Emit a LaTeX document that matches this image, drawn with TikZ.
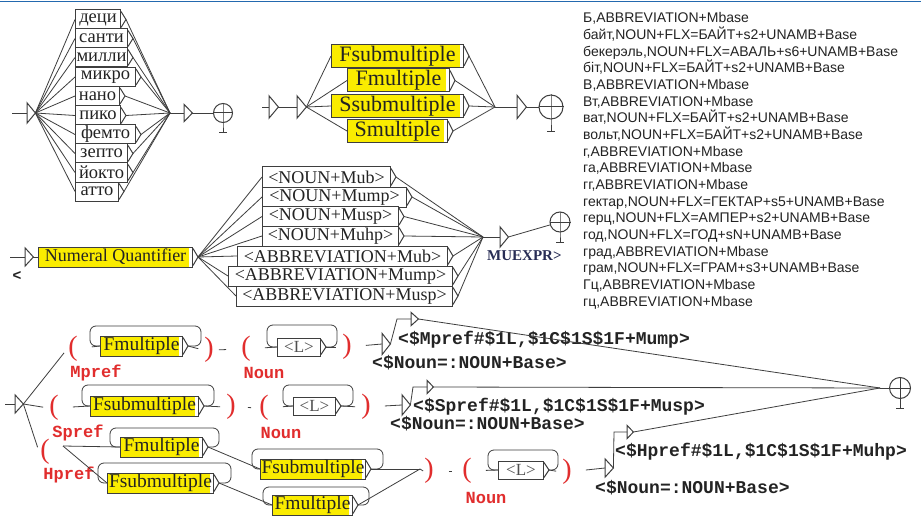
\documentclass[tikz,border=0pt]{standalone}
\usepackage{fontspec}
\setmainfont{Liberation Serif}
\newfontfamily\listfont{Liberation Sans}
\newfontfamily\codefont{Liberation Mono}
\definecolor{boxyellow}{RGB}{250,236,0}
\definecolor{edge}{RGB}{62,62,62}
\definecolor{ink}{RGB}{35,35,35}
\definecolor{softink}{RGB}{80,80,80}
\definecolor{varred}{RGB}{225,45,45}
\definecolor{topblue}{RGB}{35,105,175}
\definecolor{outblue}{RGB}{40,45,85}

\tikzset{
  conn/.style={draw=edge, line width=0.8pt},
  frame/.style={draw=edge, line width=1pt},
  unitbox/.style={frame, rectangle, anchor=west, inner xsep=1pt, inner ysep=0pt, text=ink},
  wbox/.style={unitbox, fill=white},
  ybox/.style={unitbox, fill=boxyellow,
    path picture={\fill[white] ([xshift=-4pt]path picture bounding box.north east)
      rectangle (path picture bounding box.south east);}},
  cyr/.style={font=\fontsize{18.5}{18.5}\selectfont, minimum height=19pt},
  big/.style={font=\fontsize{22}{22}\selectfont, minimum height=23pt},
  mid/.style={font=\fontsize{18}{18}\selectfont, minimum height=20pt},
  low/.style={font=\fontsize{19.5}{19.5}\selectfont, minimum height=20pt},
  lbox/.style={font=\fontsize{17}{17}\selectfont, minimum height=18pt, text=softink},
  epsbox/.style={rectangle, inner sep=0pt, anchor=west},
  paren/.style={font=\fontsize{28}{28}\selectfont, text=varred, inner sep=1pt},
  varname/.style={font=\codefont\bfseries\fontsize{17}{17}\selectfont, text=varred, inner sep=0pt},
  outtext/.style={font=\codefont\bfseries\fontsize{18}{18}\selectfont, text=ink, inner sep=0pt, anchor=west},
  entry/.style={font=\listfont\fontsize{14}{14}\selectfont, text=ink, inner sep=0pt, anchor=base west},
  plink/.style={conn, shorten <=13pt},
}

% box with its output triangle; the tip is the coordinate <name>-o
\newcommand\unitnode[6][]{%
  \node[#1, minimum width=#5pt] (#2) at (#3,#4) {#6};
  \draw[frame, fill=white] ([yshift=-2pt]#2.north east) -- ([xshift=5pt]#2.east)
    -- ([yshift=2pt]#2.south east);
  \coordinate (#2-o) at ([xshift=5pt]#2.east);}

% loop from a box back to its own input, drawn above the box
\newcommand\selfloop[4]{%
  \draw[conn, rounded corners=6pt] (#1-o) -- ++(#3,0) -- ++(0,-#4)
    -| ([xshift=-#2pt]#1.west) -- (#1.west);}

% empty box / initial state: a right-pointing triangle
\newcommand\epsnode[5]{%
  \node[epsbox, minimum width=#4pt, minimum height=#5pt] (#1) at (#2,#3) {};
  \draw[frame, fill=white] (#1.north west) -- (#1.east) -- (#1.south west) -- cycle;}

% final state: crossed circle on a short foot
\newcommand\finalstate[5]{%
  \node[circle, frame, inner sep=0pt, minimum size=#4*2pt] (#1) at (#2,#3) {};
  \draw[frame] (#1.north) -- (#1.south) -- ++(0,#5) coordinate (#1-foot);
  \draw[frame] (#1.west) -- (#1.east);
  \draw[frame] ([xshift=-4pt]#1-foot) -- ([xshift=4pt]#1-foot);}

\begin{document}
\begin{tikzpicture}[x=1pt, y=-1pt]
\fill[white] (0,0) rectangle (921,516);
\useasboundingbox (0,0) rectangle (921,516);
\draw[topblue, line width=1.8pt] (0,1.5) -- (921,1.5);

% ---------- prefixes
\coordinate (tl-start) at (12,113);
\coordinate (tl-join) at (170,113);
\epsnode{tl-init}{27}{113}{8}{20}
\draw[conn] (tl-start) -- (tl-init.west);
\unitnode[wbox,cyr]{deci}{75}{19.5}{45}{деци}
\unitnode[wbox,cyr]{centi}{75}{38.5}{52}{санти}
\unitnode[wbox,cyr]{milli}{75}{57.5}{52}{милли}
\unitnode[wbox,cyr]{micro}{75}{77}{60}{микро}
\unitnode[wbox,cyr]{nano}{75}{96}{44}{нано}
\unitnode[wbox,cyr]{pico}{75}{115.5}{45}{пико}
\unitnode[wbox,cyr]{femto}{75}{134.5}{60}{фемто}
\unitnode[wbox,cyr]{zepto}{75}{153.5}{52}{зепто}
\unitnode[wbox,cyr]{yocto}{75}{172.5}{52}{йокто}
\unitnode[wbox,cyr]{atto}{75}{191.5}{43}{атто}
\foreach \n in {deci,centi,milli,micro,nano,pico,femto,zepto,yocto,atto}{
  \draw[conn] (tl-init.east) -- (\n.west);
  \draw[conn] (\n-o) -- (tl-join);}
\epsnode{tl-end}{184}{113}{8}{17}
\finalstate{tl-fin}{223}{113}{9.5}{10}
\draw[conn] (tl-join) -- (tl-end.west);
\draw[conn] (tl-end.east) -- (tl-fin.west);

% ---------- multiples
\coordinate (tm-start) at (262,107);
\coordinate (tm-join) at (495,107);
\epsnode{tm-init}{269}{107}{9}{22}
\epsnode{tm-split}{297}{107}{9}{22}
\draw[conn] (tm-start) -- (tm-init.west);
\draw[conn] (tm-init.east) -- (tm-split.west);
\unitnode[ybox,big]{fsub}{331}{56}{132}{Fsubmultiple}
\unitnode[ybox,big]{fmul}{347}{80.5}{102}{Fmultiple}
\unitnode[ybox,big]{ssub}{331}{106}{132}{Ssubmultiple}
\unitnode[ybox,big]{smul}{347}{131}{100}{Smultiple}
\foreach \n in {fsub,fmul,ssub,smul}{
  \draw[conn] (tm-split.east) -- (\n.west);
  \draw[conn] (\n-o) -- (tm-join);}
\epsnode{tm-end}{517}{107}{9}{23}
\finalstate{tm-fin}{551}{107}{12}{12}
\draw[conn] (tm-join) -- (tm-end.west);
\draw[conn] (tm-end.east) -- (tm-fin.west);

% ---------- dictionary entries
\foreach \t [count=\i] in {{Б,ABBREVIATION+Mbase},{байт,NOUN+FLX=БАЙТ+s2+UNAMB+Base},
  {бекерэль,NOUN+FLX=АВАЛЬ+s6+UNAMB+Base},{біт,NOUN+FLX=БАЙТ+s2+UNAMB+Base},
  {В,ABBREVIATION+Mbase},{Вт,ABBREVIATION+Mbase},{ват,NOUN+FLX=БАЙТ+s2+UNAMB+Base},
  {вольт,NOUN+FLX=БАЙТ+s2+UNAMB+Base},{г,ABBREVIATION+Mbase},{га,ABBREVIATION+Mbase},
  {гг,ABBREVIATION+Mbase},{гектар,NOUN+FLX=ГЕКТАР+s5+UNAMB+Base},
  {герц,NOUN+FLX=АМПЕР+s2+UNAMB+Base},{год,NOUN+FLX=ГОД+sN+UNAMB+Base},
  {град,ABBREVIATION+Mbase},{грам,NOUN+FLX=ГРАМ+s3+UNAMB+Base},
  {Гц,ABBREVIATION+Mbase},{гц,ABBREVIATION+Mbase}}
  \node[entry] (entry\i) at (583,{23+16.65*(\i-1)}) {\t};

% ---------- quantifier with unit
\coordinate (mg-start) at (10,257);
\coordinate (mg-join) at (483,237);
\epsnode{mg-init}{25}{257}{8}{18}
\draw[conn] (mg-start) -- (mg-init.west);
\node[font=\listfont\bfseries\fontsize{15}{15}\selectfont, text=ink, inner sep=0pt] (mg-open) at (17,276) {<};
\unitnode[ybox,mid]{nq}{38}{257}{154}{Numeral Quantifier}
\draw[conn] (mg-init.east) -- (nq.west);
\unitnode[wbox,mid]{nmub}{262}{177}{128}{<NOUN+Mub>}
\unitnode[wbox,mid]{nmump}{262}{197}{144}{<NOUN+Mump>}
\unitnode[wbox,mid]{nmusp}{262}{216.5}{136}{<NOUN+Musp>}
\unitnode[wbox,mid]{nmuhp}{262}{236}{136}{<NOUN+Muhp>}
\unitnode[wbox,mid]{amub}{237}{256}{210}{<ABBREVIATION+Mub>}
\unitnode[wbox,mid]{amump}{228}{276}{224}{<ABBREVIATION+Mump>}
\unitnode[wbox,mid]{amusp}{236}{296}{216}{<ABBREVIATION+Musp>}
\foreach \n in {nmub,nmump,nmusp,nmuhp,amub,amump,amusp}{
  \draw[conn] (nq-o) -- (\n.west);
  \draw[conn] (\n-o) -- (mg-join);}
\epsnode{mg-end}{500}{237}{8}{20}
\finalstate{mg-fin}{560}{222}{10}{10}
\draw[conn] (mg-join) -- (mg-end.west);
\draw[conn] (mg-end.east) -- (mg-fin);
\node[font=\bfseries\fontsize{15}{15}\selectfont, text=outblue, inner sep=0pt, anchor=west] (mg-close) at (487,256) {MUEXPR>};

% ---------- prefixed units
\coordinate (bg-start) at (5,404);
\coordinate (bg-join) at (880,388);
\epsnode{bg-init}{15}{404}{8}{18}
\draw[conn] (bg-start) -- (bg-init.west);
\finalstate{bg-fin}{900}{388}{10.5}{9}

% row 1: Mpref
\node[paren] (lp1) at (73,349) {(};
\node[paren] (rp1) at (209,350) {)};
\node[paren] (lp1b) at (246,349) {(};
\node[paren] (rp1b) at (347,347) {)};
\node[varname] (mpref) at (96,373) {Mpref};
\node[varname] (noun1) at (264,373) {Noun};
\unitnode[ybox,low]{f1}{100}{346}{82}{Fmultiple}
\selfloop{f1}{10}{13}{20}
\unitnode[wbox,lbox]{l1}{277}{347}{43}{<L>}
\selfloop{l1}{10}{11}{22}
\epsnode{e1a}{382}{344}{8}{21}
\epsnode{e1b}{411}{319}{7}{13}
\node[outtext] (noun1out) at (372,363) {<\$Noun=:NOUN+Base>};
\node[outtext] (mpref-out) at (398,340) {<\$Mpref\#\$1L,\$1C\$1S\$1F+Mump>};
\draw[conn, shorten >=5pt] (bg-init.east) -- (lp1.west);
\draw[plink] (lp1) -- (f1.west);
\draw[conn, shorten >=5pt] (f1-o) -- (rp1.west);
\draw[conn, shorten <=4pt, shorten >=14pt] (rp1.east) -- (lp1b.west);
\draw[plink] (lp1b) -- (l1.west);
\draw[conn, shorten >=5pt] (l1-o) -- (rp1b.west);
\draw[plink] (rp1b) -- (e1a.west);
\draw[conn] (e1a.east) -- (397,319) -- (e1b.west);
\draw[conn] (e1b.east) -- (bg-join);

% row 2: Spref
\node[paren] (lp2) at (54,408) {(};
\node[paren] (rp2) at (231,407) {)};
\node[paren] (lp2b) at (264,408) {(};
\node[paren] (rp2b) at (366,407) {)};
\node[varname] (spref) at (78,433) {Spref};
\node[varname] (noun2) at (281,433) {Noun};
\unitnode[ybox,low]{f2}{90}{406}{108}{Fsubmultiple}
\selfloop{f2}{8}{10}{21}
\unitnode[wbox,lbox]{l2}{293}{406}{42}{<L>}
\selfloop{l2}{10}{12}{21}
\epsnode{e2a}{402}{405}{8}{20}
\epsnode{e2b}{427}{387}{6}{13}
\node[outtext] (noun2out) at (390,424) {<\$Noun=:NOUN+Base>};
\node[outtext] (spref-out) at (413,407) {<\$Spref\#\$1L,\$1C\$1S\$1F+Musp>};
\draw[conn, shorten >=5pt] (bg-init.east) -- (lp2.west);
\draw[plink] (lp2) -- (f2.west);
\draw[conn, shorten >=5pt] (f2-o) -- (rp2.west);
\draw[conn, shorten <=11pt, shorten >=7pt] (rp2.east) -- (lp2b.west);
\draw[plink] (lp2b) -- (l2.west);
\draw[conn, shorten >=5pt] (l2-o) -- (rp2b.west);
\draw[plink] (rp2b) -- (e2a.west);
\draw[conn] (e2a.east) -- (413,387) -- (e2b.west);
\draw[conn] (e2b.east) -- (bg-join);

% row 3: Hpref
\node[paren] (lp3) at (45,452) {(};
\node[paren] (rp3) at (429,471) {)};
\node[paren] (lp3b) at (467,471) {(};
\node[paren] (rp3b) at (567,472) {)};
\node[varname] (hpref) at (69,475) {Hpref};
\node[varname] (noun3) at (486,498) {Noun};
\coordinate (h-split) at (63,446);
\coordinate (h-join) at (420,469);
\unitnode[ybox,low]{f3a}{120}{447}{82}{Fmultiple}
\selfloop{f3a}{10}{11}{19}
\unitnode[ybox,low]{f3b}{107}{483}{106}{Fsubmultiple}
\selfloop{f3b}{9}{12}{20}
\unitnode[ybox,low]{f3c}{260}{469}{105}{Fsubmultiple}
\selfloop{f3c}{8}{12}{20}
\unitnode[ybox,low]{f3d}{272}{505}{80}{Fmultiple}
\selfloop{f3d}{9}{11}{18}
\unitnode[wbox,lbox]{l3}{498}{470}{45}{<L>}
\selfloop{l3}{10}{9}{20}
\epsnode{e3a}{605}{468}{8}{18}
\epsnode{e3b}{627}{432}{6}{13}
\node[outtext] (noun3out) at (595,488) {<\$Noun=:NOUN+Base>};
\node[outtext] (hpref-out) at (615,452) {<\$Hpref\#\$1L,\$1C\$1S\$1F+Muhp>};
\draw[conn, shorten >=5pt] (bg-init.east) -- (lp3.west);
\draw[conn] (h-split) -- (f3a.west);
\draw[conn] (h-split) -- (f3b.west);
\draw[conn] (f3a-o) -- (f3c.west);
\draw[conn] (f3b-o) -- (f3d.west);
\draw[conn] (f3c-o) -- (h-join);
\draw[conn] (f3d-o) -- (h-join);
\draw[conn] (h-join) -- (rp3.west);
\draw[conn, shorten <=14pt, shorten >=9pt] (rp3.east) -- (lp3b.west);
\draw[plink] (lp3b) -- (l3.west);
\draw[conn, shorten >=5pt] (l3-o) -- (rp3b.west);
\draw[plink] (rp3b) -- (e3a.west);
\draw[conn] (e3a.east) -- (614,432) -- (e3b.west);
\draw[conn] (e3b.east) -- (bg-join);
\draw[conn] (bg-join) -- (bg-fin.west);
\end{tikzpicture}
\end{document}
